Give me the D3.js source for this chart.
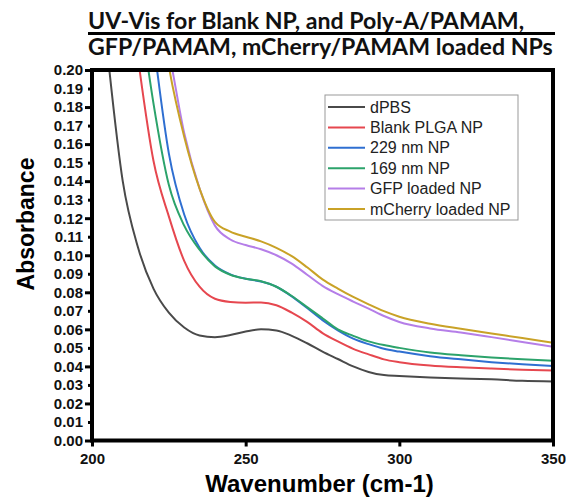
<!DOCTYPE html>
<html lang="en">
<head>
<meta charset="UTF-8" />
<title>UV-Vis absorbance</title>
<style>
  body { margin: 0; background: #fff; }
  svg { display: block; font-family: "Liberation Sans", Arial, sans-serif; }
  .title { font-family: Lato, "Open Sans", sans-serif; font-weight: 700; fill: #111; }
  .tick text { font-weight: 700; fill: #111; }
  .legend text { fill: #222; }
</style>
</head>
<body>
<div id="chart"></div>
<script src="https://cdn.jsdelivr.net/npm/d3@7"></script>
<script>
// wavenumber grid (cm-1) shared by all curves
const wavenumber = [200, 205, 210, 215, 220, 225, 230, 235, 240, 245, 250, 255, 260, 265,
  270, 275, 280, 285, 290, 295, 300, 310, 320, 330, 340, 350];

// absorbance per sample (null = not plotted, far above the frame)
const dPBS = [null, 0.21, 0.140, 0.104, 0.082, 0.069, 0.061, 0.0567, 0.0558, 0.0569, 0.0588, 0.0600, 0.0594, 0.0565,
  0.0525, 0.048, 0.044, 0.040, 0.037, 0.0353, 0.0348, 0.034, 0.0335, 0.033, 0.0322, 0.0318];
const blankPLGA = [null, null, null, 0.206, 0.151, 0.121, 0.097, 0.083, 0.0765, 0.0748, 0.0744, 0.0745, 0.0730, 0.069,
  0.064, 0.058, 0.0535, 0.0495, 0.0465, 0.0438, 0.0423, 0.0405, 0.0395, 0.0388, 0.0382, 0.0378];
const np229 = [null, null, null, 0.28, 0.215, 0.155, 0.122, 0.104, 0.0945, 0.0897, 0.0873, 0.0858, 0.083, 0.0778,
  0.0715, 0.065, 0.0595, 0.055, 0.052, 0.0495, 0.048, 0.0455, 0.0438, 0.0423, 0.0411, 0.0402];
const np169 = [null, null, null, 0.24, 0.182, 0.138, 0.116, 0.103, 0.094, 0.0895, 0.0873, 0.086, 0.083, 0.078,
  0.072, 0.066, 0.060, 0.0565, 0.0535, 0.0515, 0.050, 0.0475, 0.046, 0.0448, 0.0438, 0.0431];
const gfpNP = [null, null, null, 0.30, 0.245, 0.21, 0.166, 0.136, 0.116, 0.1085, 0.1055, 0.1032, 0.100, 0.0955,
  0.0895, 0.0835, 0.079, 0.075, 0.0712, 0.0672, 0.064, 0.0605, 0.0583, 0.0558, 0.0532, 0.0506];
const mCherryNP = [null, null, null, 0.32, 0.26, 0.202, 0.164, 0.136, 0.118, 0.1128, 0.110, 0.1075, 0.104, 0.0995,
  0.0935, 0.087, 0.082, 0.0775, 0.0735, 0.0698, 0.0668, 0.063, 0.0603, 0.0578, 0.0553, 0.0528];

const seriesNames = ["dPBS", "Blank PLGA NP", "229 nm NP", "169 nm NP", "GFP loaded NP", "mCherry loaded NP"];
const seriesValues = [dPBS, blankPLGA, np229, np169, gfpNP, mCherryNP];
const seriesColors = ["#4a4a4a", "#e6474f", "#2f6fd1", "#2ca36b", "#b57ee8", "#c9a227"];

const xTicks = [200, 250, 300, 350];
const yTicks = d3.range(0, 21).map(i => i / 100);

const width = 566, height = 497;
const plot = { left: 92, right: 553, top: 70, bottom: 440.5 };

const svg = d3.select("#chart").append("svg")
  .attr("width", width)
  .attr("height", height);

const x = d3.scaleLinear().domain([200, 350]).range([plot.left, plot.right]);
const y = d3.scaleLinear().domain([0, 0.2]).range([plot.bottom, plot.top]);

// title, two lines with a rule between them
const titleLines = ["UV-Vis for Blank NP, and Poly-A/PAMAM,", "GFP/PAMAM, mCherry/PAMAM loaded NPs"];
const t2 = svg.append("text").attr("class", "title")
  .attr("x", 88).attr("y", 55).style("font-size", "20px").text(titleLines[1]);
// fit second line to the plot width, use same size for first
const fs = 20 * 465 / t2.node().getComputedTextLength();
t2.style("font-size", fs + "px");
svg.append("text").attr("class", "title")
  .attr("x", 88).attr("y", 29).style("font-size", fs + "px").text(titleLines[0]);
svg.append("line")
  .attr("x1", 88).attr("x2", 555).attr("y1", 33.5).attr("y2", 33.5)
  .attr("stroke", "#000").attr("stroke-width", 3);

// curves
svg.append("clipPath").attr("id", "clip")
  .append("rect")
  .attr("x", plot.left).attr("y", plot.top)
  .attr("width", plot.right - plot.left).attr("height", plot.bottom - plot.top);

const line = d3.line()
  .defined(d => d[1] != null)
  .x(d => x(d[0]))
  .y(d => y(d[1]))
  .curve(d3.curveMonotoneX);

const curves = svg.append("g").attr("clip-path", "url(#clip)");
seriesValues.forEach((vals, i) => {
  curves.append("path")
    .datum(wavenumber.map((w, j) => [w, vals[j]]))
    .attr("fill", "none")
    .attr("stroke", seriesColors[i])
    .attr("stroke-width", 2)
    .attr("d", line);
});

// axes
const yAxis = svg.append("g")
  .attr("transform", `translate(${plot.left},0)`)
  .call(d3.axisLeft(y).tickValues(yTicks).tickFormat(d3.format(".2f")).tickSizeOuter(0));
yAxis.select(".domain").remove();
yAxis.selectAll(".tick line")
  .attr("stroke", "#000")
  .attr("stroke-width", 3)
  .attr("x2", (d, i) => i % 2 === 0 ? -7 : -4);
yAxis.selectAll(".tick text").attr("x", -9).style("font-size", "15px");

const xAxis = svg.append("g")
  .attr("transform", `translate(0,${plot.bottom})`)
  .call(d3.axisBottom(x).tickValues(xTicks).tickFormat(d3.format("d")).tickSizeOuter(0));
xAxis.select(".domain").remove();
xAxis.selectAll(".tick line").attr("stroke", "#000").attr("stroke-width", 3).attr("y2", 6);
xAxis.selectAll(".tick text").attr("y", 13).style("font-size", "15px");

// frame
svg.append("rect")
  .attr("x", plot.left).attr("y", plot.top)
  .attr("width", plot.right - plot.left).attr("height", plot.bottom - plot.top)
  .attr("fill", "none").attr("stroke", "#000").attr("stroke-width", 4);

// axis titles
svg.append("text")
  .attr("x", (plot.left + plot.right) / 2 - 3).attr("y", 492)
  .attr("text-anchor", "middle")
  .style("font-size", "24px").style("font-weight", 700)
  .text("Wavenumber (cm-1)");

svg.append("text")
  .attr("transform", "translate(34,224) rotate(-90)")
  .attr("text-anchor", "middle")
  .style("font-size", "23px").style("font-weight", 700)
  .text("Absorbance");

// legend
const legend = svg.append("g").attr("class", "legend");
legend.append("rect")
  .attr("x", 325).attr("y", 95).attr("width", 193).attr("height", 125)
  .attr("fill", "#fff").attr("stroke", "#999").attr("stroke-width", 1);
seriesNames.forEach((name, i) => {
  const ly = 107 + i * 20.4;
  legend.append("line")
    .attr("x1", 328).attr("x2", 365).attr("y1", ly).attr("y2", ly)
    .attr("stroke", seriesColors[i]).attr("stroke-width", 2);
  legend.append("text")
    .attr("x", 370).attr("y", ly).attr("dy", "0.35em")
    .style("font-size", "16px")
    .text(name);
});
</script>
</body>
</html>
